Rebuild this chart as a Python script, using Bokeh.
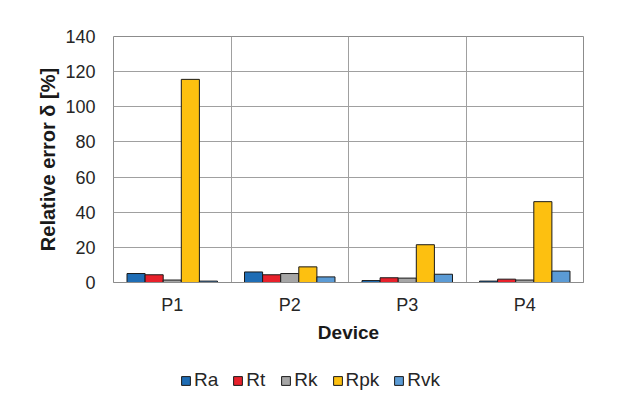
from bokeh.plotting import figure
from bokeh.layouts import column
from bokeh.models import ColumnDataSource, FixedTicker, Legend, LegendItem, Range1d
from bokeh.transform import dodge
from bokeh.embed import file_html
from bokeh.resources import INLINE

devices = ["P1", "P2", "P3", "P4"]
series = ["Ra", "Rt", "Rk", "Rpk", "Rvk"]
ra = [5.1, 6.0, 1.1, 0.8]
rt = [4.4, 4.4, 2.7, 1.9]
rk = [1.4, 5.1, 2.5, 1.4]
rpk = [115.6, 8.9, 21.5, 46.0]
rvk = [0.8, 3.2, 4.7, 6.5]
colors = ["#1f6db5", "#e8212b", "#a6a6a6", "#fdc010", "#5b9bd5"]

pos = [i + 0.5 for i in range(len(devices))]
src = ColumnDataSource(dict(x=pos, Ra=ra, Rt=rt, Rk=rk, Rpk=rpk, Rvk=rvk))

p = figure(width=620, height=349, output_backend="svg", toolbar_location=None,
           x_range=Range1d(0, len(devices)), y_range=Range1d(0, 140))
p.min_border_left = 113
p.min_border_right = 37
p.min_border_top = 36
p.min_border_bottom = 67
p.background_fill_color = "white"
p.border_fill_color = "white"
p.outline_line_color = "#8c8c8c"

bw = 0.154
for k, name in enumerate(series):
    p.vbar(x=dodge("x", (k - 2) * bw, range=p.x_range), top=name, width=bw,
           source=src, fill_color=colors[k], line_color="#1a1a1a", line_width=1)

font = "Liberation Sans"
p.xaxis.ticker = FixedTicker(ticks=pos)
p.xaxis.major_label_overrides = {x: d for x, d in zip(pos, devices)}
p.yaxis.ticker = FixedTicker(ticks=list(range(0, 141, 20)))
for ax in (p.xaxis, p.yaxis):
    ax.major_tick_line_color = None
    ax.minor_tick_line_color = None
    ax.major_label_text_font = font
    ax.major_label_text_font_size = "18px"
    ax.major_label_text_color = "#262626"
    ax.axis_label_text_font = font
    ax.axis_label_text_font_style = "bold"
    ax.axis_label_text_color = "#1a1a1a"
p.xaxis.axis_label_text_font_size = "19px"
p.yaxis.axis_label_text_font_size = "20px"
p.yaxis.axis_line_color = None
p.xaxis.axis_line_color = "#8c8c8c"
p.xaxis.major_label_standoff = 6
p.yaxis.major_label_standoff = 12
p.xaxis.axis_label = "Device"
p.yaxis.axis_label = "Relative error δ [%]"
p.xaxis.axis_label_standoff = 4
p.yaxis.axis_label_standoff = 3

p.xgrid.ticker = FixedTicker(ticks=list(range(len(devices) + 1)))
p.xgrid.grid_line_color = "#a0a0a0"
p.ygrid.grid_line_color = "#a0a0a0"

# legend lives in its own strip under the chart
q = figure(width=620, height=55, output_backend="svg", toolbar_location=None,
           x_range=Range1d(0, 1), y_range=Range1d(0, 1))
q.axis.visible = False
q.grid.visible = False
q.outline_line_color = None
q.background_fill_color = "white"
q.border_fill_color = "white"
q.min_border = 0
items = []
for k, name in enumerate(series):
    # stand-in outside the visible range so the legend has a glyph to copy
    r = q.vbar(x=[0.5], top=[-2], bottom=[-3], width=0.1,
               fill_color=colors[k], line_color="#1a1a1a")
    items.append(LegendItem(label=name, renderers=[r]))

legend = Legend(items=items, orientation="horizontal", location=(67, 13))
legend.label_text_font = font
legend.label_text_font_size = "19px"
legend.label_text_color = "#262626"
legend.glyph_width = 11
legend.glyph_height = 11
legend.label_standoff = 3
legend.spacing = 14
legend.padding = 8
legend.border_line_color = None
legend.background_fill_alpha = 0
q.add_layout(legend)

open("out.html", "w").write(file_html(column(p, q), INLINE))
